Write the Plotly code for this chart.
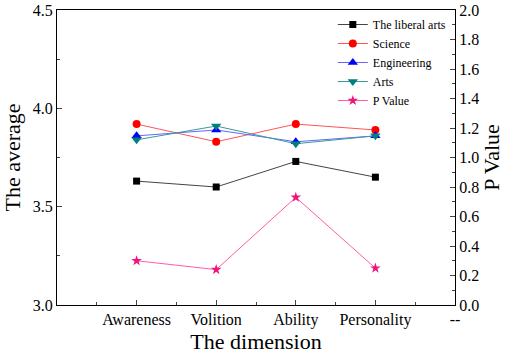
import plotly.graph_objects as go

categories = ["Awareness", "Volition", "Ability", "Personality"]
tick_labels = ["", "Awareness", "Volition", "Ability", "Personality", "--"]
liberal_arts = [3.63, 3.60, 3.73, 3.65]
science = [3.92, 3.83, 3.92, 3.89]
engineering = [3.86, 3.89, 3.83, 3.86]
arts = [3.84, 3.91, 3.82, 3.86]
p_value = [0.30, 0.24, 0.73, 0.25]

x = list(range(1, len(categories) + 1))
FONT = "Liberation Serif, Times New Roman, serif"

def f(size):
    return dict(family=FONT, size=size, color="black")

fig = go.Figure()
series = [
    ("The liberal arts", liberal_arts, "#000000", "#444444", "square", 7),
    ("Science", science, "#FF0000", "#FF5555", "circle", 8),
    ("Engineering", engineering, "#0000FF", "#6666FF", "triangle-up", 9),
    ("Arts", arts, "#007F7F", "#3A9A9A", "triangle-down", 9),
]
for name, vals, mc, lc, sym, sz in series:
    fig.add_trace(go.Scatter(x=x, y=vals, name=name, mode="lines+markers",
                             line=dict(color=lc, width=1),
                             marker=dict(color=mc, symbol=sym, size=sz)))
fig.add_trace(go.Scatter(x=x, y=p_value, name="P Value", mode="lines+markers",
                         yaxis="y2",
                         line=dict(color="#FF5CA8", width=1),
                         marker=dict(color="#F0147F", symbol="star", size=8)))

fig.update_layout(
    template="none",
    width=510, height=359,
    margin=dict(l=57, r=55, t=10, b=54, pad=0),
    paper_bgcolor="white", plot_bgcolor="white",
    font=f(16),
    showlegend=True,
    legend=dict(x=0.693, y=1.0, xanchor="left", yanchor="top",
                font=f(12), bgcolor="rgba(0,0,0,0)",
                tracegroupgap=0),
    xaxis=dict(range=[0, 5], tickmode="array", tickvals=list(range(6)),
               ticktext=tick_labels, ticks="inside", ticklen=5,
               showline=True, linecolor="black", linewidth=1, mirror=True,
               showgrid=False, zeroline=False, automargin=False,
               minor=dict(tick0=0, dtick=0.5, ticks="inside", ticklen=3),
               title=dict(text="The dimension", font=f(22), standoff=2),
               tickfont=f(16)),
    yaxis=dict(range=[3, 4.5], dtick=0.5, tick0=3, tickformat=".1f",
               ticks="inside", ticklen=5, showline=True, linecolor="black",
               linewidth=1, showgrid=False, zeroline=False, automargin=False,
               minor=dict(dtick=0.25, ticks="inside", ticklen=3),
               title=dict(text="The average", font=f(22), standoff=6),
               tickfont=f(16)),
    yaxis2=dict(range=[0, 2], dtick=0.2, tick0=0, tickformat=".1f",
                overlaying="y", side="right",
                ticks="inside", ticklen=5, showline=True, linecolor="black",
                linewidth=1, showgrid=False, zeroline=False, automargin=False,
                minor=dict(dtick=0.1, ticks="inside", ticklen=3),
                title=dict(text="P Value", font=f(22), standoff=2),
                tickfont=f(16)),
)

fig.write_html("out.html", config={"displayModeBar": False},
               post_script="document.body.style.margin='0px';document.body.style.overflow='hidden';")
